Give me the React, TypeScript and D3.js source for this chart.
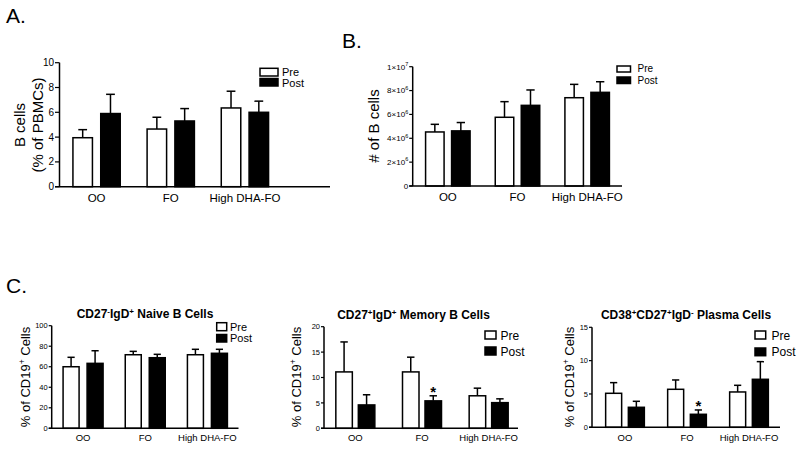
import React from "react";
import * as d3 from "d3";

// ---------- DATA ----------
const groups = ["OO", "FO", "High DHA-FO"];
const seriesNames = ["Pre", "Post"];

// Panel A: B cells (% of PBMCs)
const aPre = [3.95, 4.65, 6.35];
const aPreErr = [0.65, 0.95, 1.35];
const aPost = [5.9, 5.3, 6.0];
const aPostErr = [1.55, 1.0, 0.9];
const aTicks = [0, 2, 4, 6, 8, 10];

// Panel B: # of B cells
const bPre = [4.53e6, 5.76e6, 7.4e6];
const bPreErr = [0.64e6, 1.31e6, 1.12e6];
const bPost = [4.62e6, 6.76e6, 7.85e6];
const bPostErr = [0.7e6, 1.29e6, 0.89e6];
const bTicks = [0, 2e6, 4e6, 6e6, 8e6, 1e7];
const bTickBase = ["0", "2×10", "4×10", "6×10", "8×10", "1×10"];
const bTickExp = ["", "6", "6", "6", "6", "7"];

// Panel C1: CD27-IgD+ Naive B Cells
const c1Pre = [60, 71.7, 71.7];
const c1PreErr = [9.2, 3.3, 5.3];
const c1Post = [63.3, 68.8, 73.1];
const c1PostErr = [12.3, 3.3, 3.9];
const c1Ticks = [0, 20, 40, 60, 80, 100];

// Panel C2: CD27+IgD+ Memory B Cells
const c2Pre = [11.1, 11.1, 6.4];
const c2PreErr = [5.9, 2.9, 1.5];
const c2Post = [4.6, 5.4, 5.05];
const c2PostErr = [2.0, 1.0, 0.75];
const c2Sig = [false, true, false];
const c2Ticks = [0, 5, 10, 15, 20];

// Panel C3: CD38+CD27+IgD- Plasma Cells
const c3Pre = [5.1, 5.7, 5.3];
const c3PreErr = [1.6, 1.4, 1.0];
const c3Post = [3.0, 1.95, 7.2];
const c3PostErr = [0.9, 0.65, 2.65];
const c3Sig = [false, true, false];
const c3Ticks = [0, 5, 10, 15];

const FONT = "'Liberation Sans', Arial, Helvetica, sans-serif";

type Layout = {
  axisX: number;
  band: [number, number];
  axisEnd: number;
  yTop: number;
  yBottom: number;
  barW: number;
  gap: number;
  tickFs: number;
  tickLen: number;
  catFs: number;
  catY: number;
  legend: {
    x: number;
    w: number;
    y1: number;
    h1: number;
    y2: number;
    h2: number;
    tx: number;
    fs: number;
    b1: number;
    b2: number;
  };
};

type PanelProps = {
  layout: Layout;
  pre: number[];
  preErr: number[];
  post: number[];
  postErr: number[];
  sig?: boolean[];
  ticks: number[];
  yMax: number;
  tickLabel: (v: number, i: number) => React.ReactNode;
};

function Panel({ layout, pre, preErr, post, postErr, sig, ticks, yMax, tickLabel }: PanelProps) {
  const L = layout;
  const x = d3.scaleBand<string>().domain(groups).range(L.band).paddingInner(0).paddingOuter(0);
  const inner = d3
    .scaleBand<string>()
    .domain(seriesNames)
    .range([-(L.barW + L.gap / 2), L.barW + L.gap / 2])
    .paddingInner(L.gap / (L.barW + L.gap))
    .paddingOuter(0);
  const y = d3.scaleLinear().domain([0, yMax]).range([L.yBottom, L.yTop]);
  const bw = inner.bandwidth();
  const capW = bw * 0.45;

  const series = [
    { name: "Pre", vals: pre, errs: preErr, fill: "#fff" },
    { name: "Post", vals: post, errs: postErr, fill: "#000" },
  ];

  return (
    <g>
      {series.map((s) =>
        groups.map((g, i) => {
          const cx = (x(g) as number) + x.bandwidth() / 2;
          const bx = cx + (inner(s.name) as number);
          const top = y(s.vals[i]);
          const errTop = y(s.vals[i] + s.errs[i]);
          const mid = bx + bw / 2;
          return (
            <g key={s.name + g}>
              <line x1={mid} x2={mid} y1={top} y2={errTop} stroke="#000" strokeWidth={1.5} />
              <line x1={mid - capW / 2} x2={mid + capW / 2} y1={errTop} y2={errTop} stroke="#000" strokeWidth={1.5} />
              <rect x={bx} y={top} width={bw} height={L.yBottom - top} fill={s.fill} stroke="#000" strokeWidth={1.5} />
              {s.name === "Post" && sig && sig[i] ? (
                <text x={mid} y={errTop + 1} textAnchor="middle" fontSize={15} fontWeight="bold" fontFamily={FONT}>
                  *
                </text>
              ) : null}
            </g>
          );
        })
      )}
      {/* axes */}
      <line x1={L.axisX} x2={L.axisX} y1={L.yTop} y2={L.yBottom} stroke="#000" strokeWidth={1.5} />
      <line x1={L.axisX - L.tickLen} x2={L.axisEnd} y1={L.yBottom} y2={L.yBottom} stroke="#000" strokeWidth={1.5} />
      {ticks.map((t, i) => (
        <g key={"t" + t}>
          <line x1={L.axisX - L.tickLen} x2={L.axisX} y1={y(t)} y2={y(t)} stroke="#000" strokeWidth={1.2} />
          <text
            x={L.axisX - L.tickLen - 1}
            y={y(t)}
            dy="0.35em"
            textAnchor="end"
            fontSize={L.tickFs}
            fontFamily={FONT}
          >
            {tickLabel(t, i)}
          </text>
        </g>
      ))}
      {groups.map((g) => (
        <text
          key={"c" + g}
          x={(x(g) as number) + x.bandwidth() / 2}
          y={L.catY}
          textAnchor="middle"
          fontSize={L.catFs}
          fontFamily={FONT}
        >
          {g}
        </text>
      ))}
      {/* legend */}
      <rect x={L.legend.x} y={L.legend.y1} width={L.legend.w} height={L.legend.h1} fill="#fff" stroke="#000" strokeWidth={1.5} />
      <rect x={L.legend.x} y={L.legend.y2} width={L.legend.w} height={L.legend.h2} fill="#000" stroke="#000" strokeWidth={1.5} />
      <text x={L.legend.tx} y={L.legend.b1} fontSize={L.legend.fs} fontFamily={FONT}>
        {seriesNames[0]}
      </text>
      <text x={L.legend.tx} y={L.legend.b2} fontSize={L.legend.fs} fontFamily={FONT}>
        {seriesNames[1]}
      </text>
    </g>
  );
}

const layoutA: Layout = {
  axisX: 59.5, band: [59.5, 282], axisEnd: 330, yTop: 62.7, yBottom: 186.7, barW: 19.5, gap: 8.3,
  tickFs: 10, tickLen: 4.5, catFs: 11.5, catY: 201.5,
  legend: { x: 260, w: 18, y1: 68.3, h1: 7.7, y2: 78.5, h2: 7.5, tx: 282, fs: 11, b1: 76, b2: 86.5 },
};
const layoutB: Layout = {
  axisX: 412.7, band: [413, 622], axisEnd: 622, yTop: 66.7, yBottom: 186, barW: 18.5, gap: 7.5,
  tickFs: 8, tickLen: 3.5, catFs: 11.5, catY: 201,
  legend: { x: 617, w: 13.5, y1: 66, h1: 6, y2: 77, h2: 6.5, tx: 637.5, fs: 10, b1: 72, b2: 84 },
};
const layoutC1: Layout = {
  axisX: 51.7, band: [52, 238.5], axisEnd: 238.5, yTop: 325.7, yBottom: 428.3, barW: 16, gap: 8,
  tickFs: 7.5, tickLen: 3, catFs: 9.5, catY: 441,
  legend: { x: 216.7, w: 10, y1: 322.7, h1: 8, y2: 334.5, h2: 7.5, tx: 230, fs: 11, b1: 330.7, b2: 342.3 },
};
const layoutC2: Layout = {
  axisX: 324, band: [322, 522], axisEnd: 518, yTop: 326.7, yBottom: 428.3, barW: 16.5, gap: 6,
  tickFs: 7.5, tickLen: 3, catFs: 9.5, catY: 441,
  legend: { x: 485, w: 11, y1: 331, h1: 8, y2: 347, h2: 8, tx: 500.5, fs: 12, b1: 339.5, b2: 355.5 },
};
const layoutC3: Layout = {
  axisX: 592, band: [594, 780], axisEnd: 780, yTop: 327.3, yBottom: 427.3, barW: 16, gap: 6.7,
  tickFs: 7.5, tickLen: 3, catFs: 9.5, catY: 441,
  legend: { x: 755, w: 10.7, y1: 331, h1: 8, y2: 348, h2: 7.7, tx: 771.5, fs: 12, b1: 339.5, b2: 356 },
};

const plainTick = (v: number) => String(v);
const bTick = (_v: number, i: number) => (
  <>
    {bTickBase[i]}
    {bTickExp[i] ? (
      <tspan fontSize={5.5} dy={-3.5}>
        {bTickExp[i]}
      </tspan>
    ) : null}
  </>
);

export default function App() {
  const cYLabel = (xb: number) => (
    <text
      transform={`translate(${xb},377) rotate(-90)`}
      textAnchor="middle"
      fontSize={13}
      fontFamily={FONT}
    >
      % of CD19<tspan fontSize={8.5} dy={-5}>+</tspan>
      <tspan dy={5}> Cells</tspan>
    </text>
  );
  return (
    <svg
      width={800}
      height={449}
      style={{ position: "absolute", left: 0, top: 0, background: "#fff" }}
      fontFamily={FONT}
    >
      <rect x={0} y={0} width={800} height={449} fill="#fff" />
      {/* panel letters */}
      <text x={6} y={22.7} fontSize={21} fontFamily={FONT}>A.</text>
      <text x={342} y={48} fontSize={21} fontFamily={FONT}>B.</text>
      <text x={6} y={293} fontSize={21} fontFamily={FONT}>C.</text>

      {/* Panel A */}
      <text transform="translate(25,125) rotate(-90)" textAnchor="middle" fontSize={15} fontFamily={FONT}>
        B cells
      </text>
      <text transform="translate(43,125) rotate(-90)" textAnchor="middle" fontSize={15} fontFamily={FONT}>
        (% of PBMCs)
      </text>
      <Panel layout={layoutA} pre={aPre} preErr={aPreErr} post={aPost} postErr={aPostErr} ticks={aTicks} yMax={10} tickLabel={plainTick} />

      {/* Panel B */}
      <text transform="translate(379,126) rotate(-90)" textAnchor="middle" fontSize={15} fontFamily={FONT}>
        # of B cells
      </text>
      <Panel layout={layoutB} pre={bPre} preErr={bPreErr} post={bPost} postErr={bPostErr} ticks={bTicks} yMax={1e7} tickLabel={bTick} />

      {/* Panel C1 */}
      <text x={145} y={318} textAnchor="middle" fontSize={12} fontWeight="bold" fontFamily={FONT}>
        CD27<tspan fontSize={8} dy={-4}>-</tspan>
        <tspan dy={4}>IgD</tspan>
        <tspan fontSize={8} dy={-4}>+</tspan>
        <tspan dy={4}> Naive B Cells</tspan>
      </text>
      {cYLabel(29.5)}
      <Panel layout={layoutC1} pre={c1Pre} preErr={c1PreErr} post={c1Post} postErr={c1PostErr} ticks={c1Ticks} yMax={100} tickLabel={plainTick} />

      {/* Panel C2 */}
      <text x={413.5} y={318.5} textAnchor="middle" fontSize={12} fontWeight="bold" fontFamily={FONT}>
        CD27<tspan fontSize={8} dy={-4}>+</tspan>
        <tspan dy={4}>IgD</tspan>
        <tspan fontSize={8} dy={-4}>+</tspan>
        <tspan dy={4}> Memory B Cells</tspan>
      </text>
      {cYLabel(301)}
      <Panel layout={layoutC2} pre={c2Pre} preErr={c2PreErr} post={c2Post} postErr={c2PostErr} sig={c2Sig} ticks={c2Ticks} yMax={20} tickLabel={plainTick} />

      {/* Panel C3 */}
      <text x={686} y={319} textAnchor="middle" fontSize={12} fontWeight="bold" fontFamily={FONT}>
        CD38<tspan fontSize={8} dy={-4}>+</tspan>
        <tspan dy={4}>CD27</tspan>
        <tspan fontSize={8} dy={-4}>+</tspan>
        <tspan dy={4}>IgD</tspan>
        <tspan fontSize={8} dy={-4}>-</tspan>
        <tspan dy={4}> Plasma Cells</tspan>
      </text>
      {cYLabel(574)}
      <Panel layout={layoutC3} pre={c3Pre} preErr={c3PreErr} post={c3Post} postErr={c3PostErr} sig={c3Sig} ticks={c3Ticks} yMax={15} tickLabel={plainTick} />
    </svg>
  );
}
